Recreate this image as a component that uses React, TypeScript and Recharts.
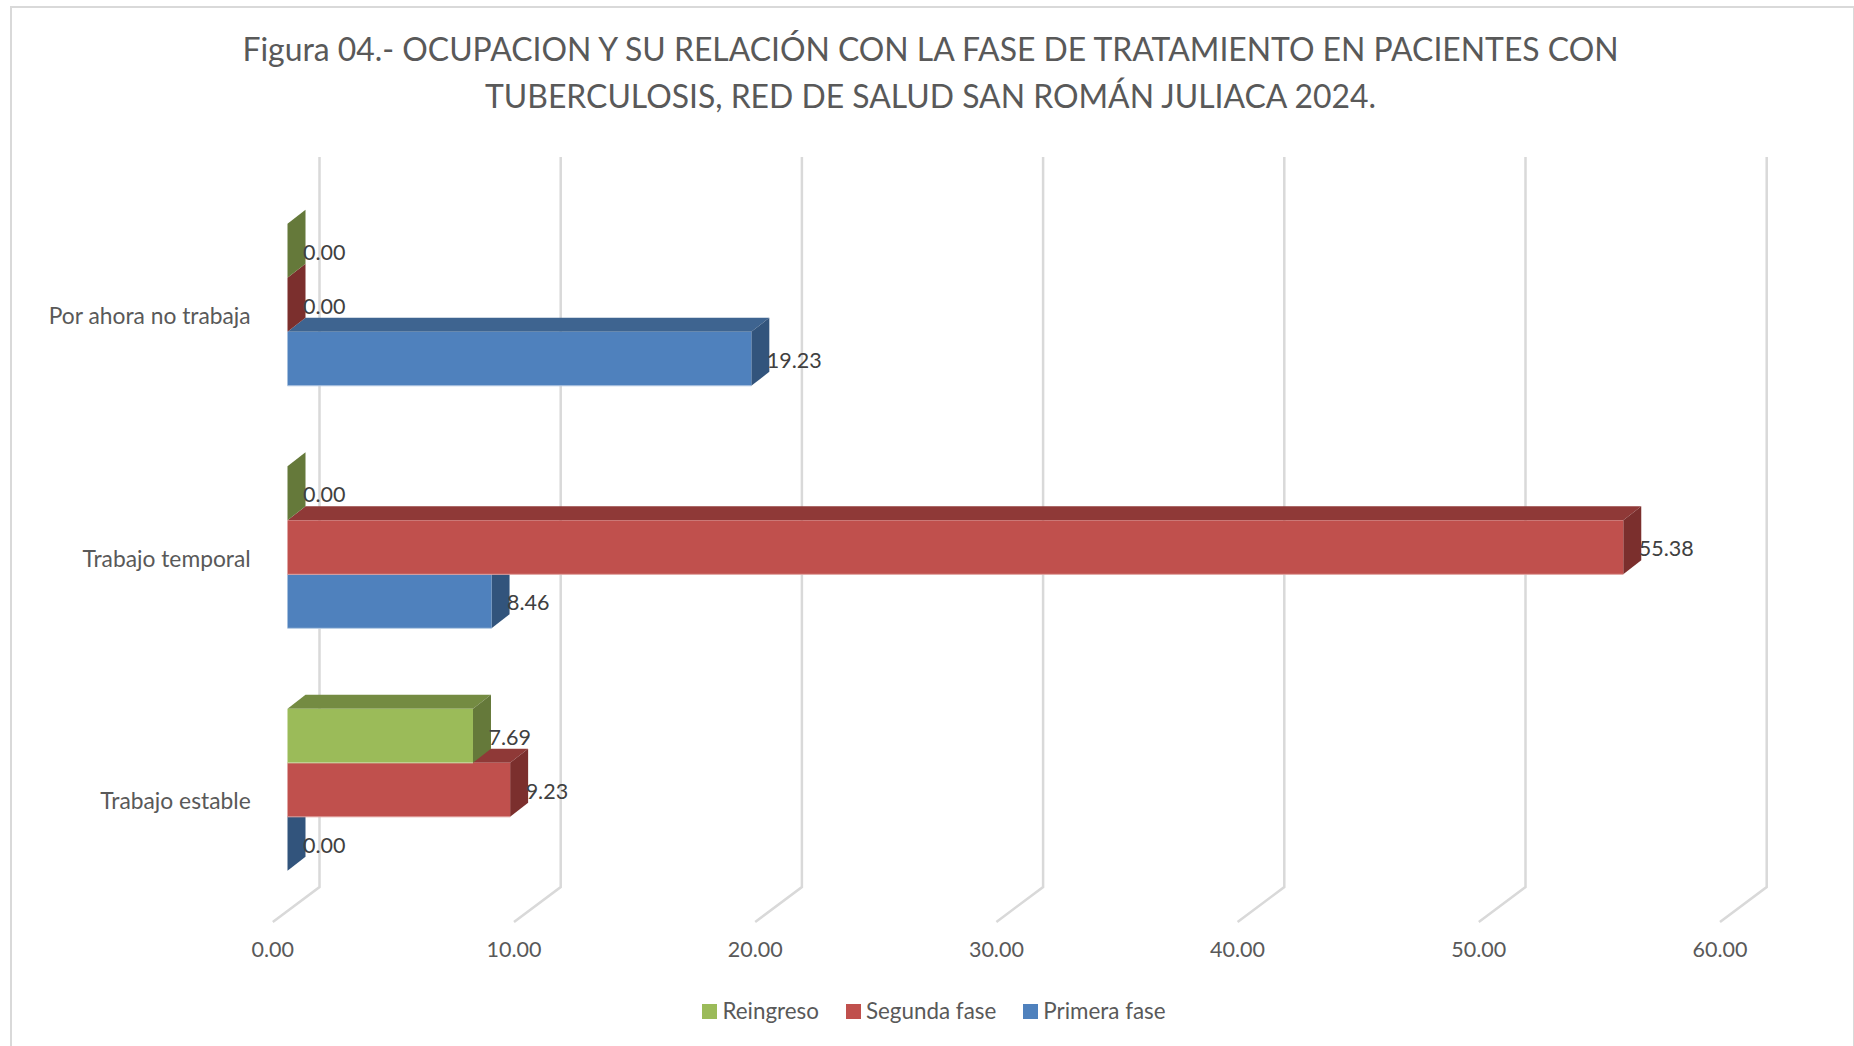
import React from 'react';
import { BarChart, Bar, XAxis, YAxis, CartesianGrid, Legend, LabelList } from 'recharts';

const categories = ['Por ahora no trabaja', 'Trabajo temporal', 'Trabajo estable'];
const reingreso = [0, 0, 7.69];
const segundaFase = [0, 55.38, 9.23];
const primeraFase = [19.23, 8.46, 0];
const valueTicks = [0, 10, 20, 30, 40, 50, 60];
const legendOrder = ['Reingreso', 'Segunda fase', 'Primera fase'];
const titleLines = [
  'Figura 04.- OCUPACION Y SU RELACIÓN CON LA FASE DE TRATAMIENTO EN PACIENTES CON',
  'TUBERCULOSIS, RED DE SALUD SAN ROMÁN JULIACA 2024.',
];

const rows = categories.map((name, i) => ({
  name,
  reingreso: reingreso[i],
  segunda: segundaFase[i],
  primera: primeraFase[i],
}));

const FONT = 'Lato, sans-serif';
const DX = 18;
const DY = 14;

const PALETTE = {
  blue: { front: '#4F81BD', top: '#3E6490', side: '#32547C', edge: '#B9CDE5' },
  red: { front: '#C0504D', top: '#8F3937', side: '#7B2F2D', edge: '#E0A3A1' },
  green: { front: '#9BBB59', top: '#748B42', side: '#65793A', edge: '#D0E0AC' },
};

// Paint order is blue, red, green so that upper bars overlap the lower ones,
// while the reading order inside a band is green, red, blue.
const makeShape = (c: typeof PALETTE.blue, slot: number) => (props: any) => {
  const { x, width, height } = props;
  const y = props.y + slot * height;
  const r = x + width;
  const b = y + height;
  return (
    <g>
      {width > 0 && (
        <polygon
          points={`${x},${y} ${x + DX},${y - DY} ${r + DX},${y - DY} ${r},${y}`}
          fill={c.top}
        />
      )}
      <polygon
        points={`${r},${y} ${r + DX},${y - DY} ${r + DX},${b - DY} ${r},${b}`}
        fill={c.side}
      />
      {width > 0 && <rect x={x} y={y} width={width} height={height} fill={c.front} />}
      {width > 0 && <line x1={x} x2={r} y1={b} y2={b} stroke={c.edge} strokeWidth={1} />}
    </g>
  );
};

const makeLabel = (slot: number) => (props: any) => {
  const { x, y, width, height, value } = props;
  return (
    <text
      x={x + width + 15.5}
      y={y + slot * height + height / 2 + 1}
      dominantBaseline="central"
      fontFamily={FONT}
      fontSize={21.5}
      fill="#404040"
    >
      {Number(value).toFixed(2)}
    </text>
  );
};

const gridLine = (props: any) => {
  const { x1, y1, y2, key } = props;
  return (
    <path
      key={key}
      d={`M${x1 + 32},${y1 - 26.4} L${x1 + 32},${y2 - 23.9} L${x1 - 14.7},${y2 + 11.1}`}
      fill="none"
      stroke="#D9D9D9"
      strokeWidth={2.5}
    />
  );
};

const ValueTick = (props: any) => {
  const { x, y, payload } = props;
  return (
    <text
      x={x - 14.7}
      y={y + 30.2}
      textAnchor="middle"
      dominantBaseline="central"
      fontFamily={FONT}
      fontSize={21.5}
      fill="#595959"
    >
      {Number(payload.value).toFixed(2)}
    </text>
  );
};

const CategoryTick = (props: any) => {
  const { y, payload } = props;
  return (
    <text
      x={250.7}
      y={y + 10.5}
      textAnchor="end"
      dominantBaseline="central"
      fontFamily={FONT}
      fontSize={22.8}
      fill="#595959"
    >
      {payload.value}
    </text>
  );
};

const LegendBox = (props: any) => {
  const payload = props.payload || [];
  const items = legendOrder
    .map((label) => payload.find((p: any) => p.value === label))
    .filter(Boolean);
  return (
    <div
      style={{
        display: 'flex',
        justifyContent: 'center',
        gap: 27,
        fontFamily: FONT,
        fontSize: 22.4,
        color: '#595959',
        lineHeight: '28px',
        paddingLeft: 14,
      }}
    >
      {items.map((it: any) => (
        <div key={it.value} style={{ display: 'flex', alignItems: 'center', gap: 5 }}>
          <span style={{ width: 15, height: 15, background: it.color, display: 'inline-block' }} />
          <span>{it.value}</span>
        </div>
      ))}
    </div>
  );
};

export default function App() {
  return (
    <div
      style={{
        position: 'absolute',
        left: 0,
        top: 0,
        width: 1854,
        height: 1046,
        overflow: 'hidden',
        background: '#fff',
      }}
    >
      <div
        style={{
          position: 'absolute',
          left: 10,
          top: 6,
          width: 1841,
          height: 1100,
          border: '2px solid #D9D9D9',
        }}
      />
      <div
        style={{
          position: 'absolute',
          left: 0,
          top: 26,
          width: 1861,
          textAlign: 'center',
          fontFamily: FONT,
          fontSize: 31.9,
          lineHeight: '47px',
          color: '#595959',
        }}
      >
        {titleLines.map((t) => (
          <div key={t}>{t}</div>
        ))}
      </div>
      <div style={{ position: 'absolute', left: 0, top: 0 }}>
        <BarChart
          width={1854}
          height={1046}
          data={rows}
          layout="vertical"
          barCategoryGap="16.67%"
          barGap={0}
          margin={{ top: 183.4, right: 119.3, bottom: 75.1, left: 0 }}
        >
          <CartesianGrid horizontal={false} vertical={gridLine} />
          <XAxis
            type="number"
            domain={[0, 60]}
            ticks={valueTicks}
            height={60}
            axisLine={false}
            tickLine={false}
            tick={<ValueTick />}
            interval={0}
          />
          <YAxis
            type="category"
            dataKey="name"
            width={287.5}
            axisLine={false}
            tickLine={false}
            tick={<CategoryTick />}
            interval={0}
          />
          <Legend
            layout="horizontal"
            verticalAlign="middle"
            align="center"
            content={<LegendBox />}
            wrapperStyle={{ top: 997, left: 0, width: 1854, height: 28 }}
          />
          <Bar
            dataKey="primera"
            name="Primera fase"
            fill={PALETTE.blue.front}
            isAnimationActive={false}
            shape={makeShape(PALETTE.blue, 2)}
          >
            <LabelList dataKey="primera" content={makeLabel(2)} />
          </Bar>
          <Bar
            dataKey="segunda"
            name="Segunda fase"
            fill={PALETTE.red.front}
            isAnimationActive={false}
            shape={makeShape(PALETTE.red, 0)}
          >
            <LabelList dataKey="segunda" content={makeLabel(0)} />
          </Bar>
          <Bar
            dataKey="reingreso"
            name="Reingreso"
            fill={PALETTE.green.front}
            isAnimationActive={false}
            shape={makeShape(PALETTE.green, -2)}
          >
            <LabelList dataKey="reingreso" content={makeLabel(-2)} />
          </Bar>
        </BarChart>
      </div>
    </div>
  );
}
